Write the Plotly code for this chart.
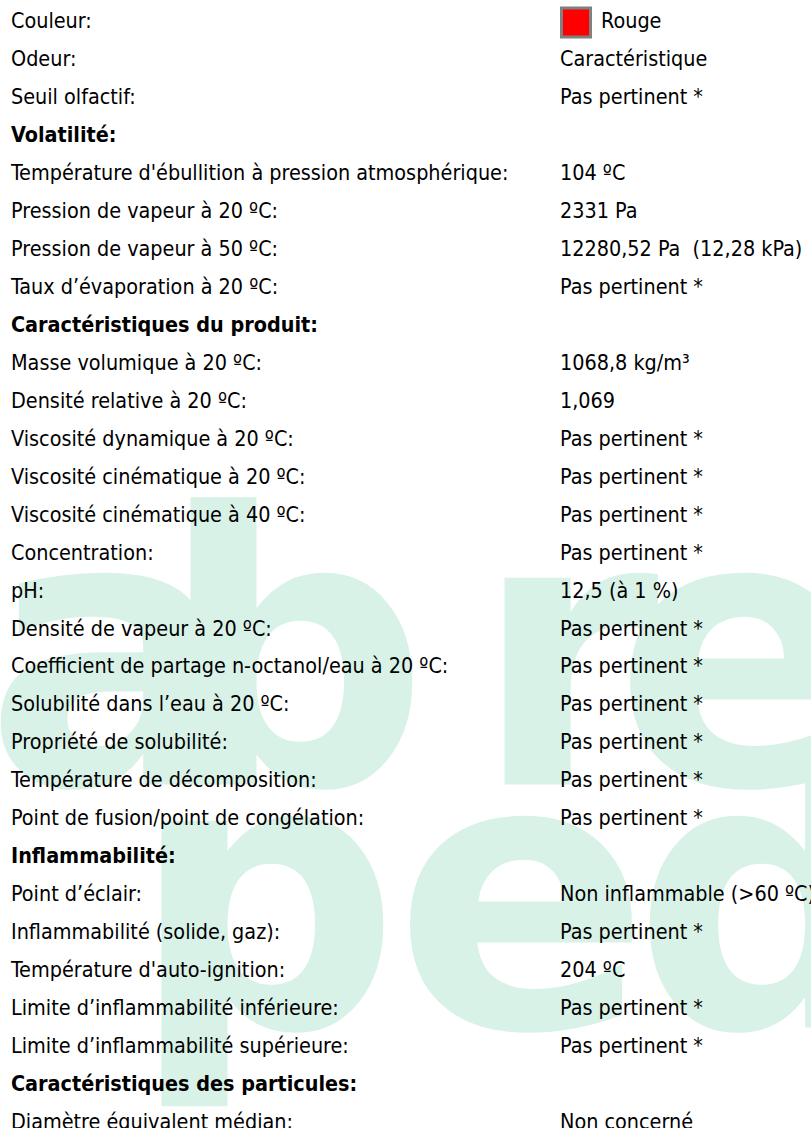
import plotly.graph_objects as go

# ---- data -------------------------------------------------------------
labels = [
    "Couleur:", "Odeur:", "Seuil olfactif:", "Volatilité:",
    "Température d'ébullition à pression atmosphérique:",
    "Pression de vapeur à 20 ºC:", "Pression de vapeur à 50 ºC:",
    "Taux d’évaporation à 20 ºC:", "Caractéristiques du produit:",
    "Masse volumique à 20 ºC:", "Densité relative à 20 ºC:",
    "Viscosité dynamique à 20 ºC:", "Viscosité cinématique à 20 ºC:",
    "Viscosité cinématique à 40 ºC:", "Concentration:", "pH:",
    "Densité de vapeur à 20 ºC:",
    "Coefficient de partage n-octanol/eau à 20 ºC:",
    "Solubilité dans l’eau à 20 ºC:", "Propriété de solubilité:",
    "Température de décomposition:",
    "Point de fusion/point de congélation:", "Inflammabilité:",
    "Point d’éclair:", "Inflammabilité (solide, gaz):",
    "Température d'auto-ignition:",
    "Limite d’inflammabilité inférieure:",
    "Limite d’inflammabilité supérieure:",
    "Caractéristiques des particules:", "Diamètre équivalent médian:",
]
values = [
    "Rouge", "Caractéristique", "Pas pertinent *", "",
    "104 ºC", "2331 Pa", "12280,52 Pa \u00a0(12,28 kPa)", "Pas pertinent *", "",
    "1068,8 kg/m³", "1,069", "Pas pertinent *", "Pas pertinent *",
    "Pas pertinent *", "Pas pertinent *", "12,5 (à 1 %)", "Pas pertinent *",
    "Pas pertinent *", "Pas pertinent *", "Pas pertinent *",
    "Pas pertinent *", "Pas pertinent *", "",
    "Non inflammable (>60 ºC)", "Pas pertinent *", "204 ºC",
    "Pas pertinent *", "Pas pertinent *", "", "Non concerné",
]
section_headers = ["Volatilité:", "Caractéristiques du produit:",
                   "Inflammabilité:", "Caractéristiques des particules:"]
colour_row = "Couleur:"
colour_value = "#ff0000"

watermark_rows = ["abre", "ped"]

# ---- layout constants -------------------------------------------------
W, H = 811, 1128
PITCH = 37.95
TOP = 23.0
LABEL_X = 11
VALUE_X = 560
FONT = "'DejaVu Sans Condensed', 'DejaVu Sans', sans-serif"
FSIZE = 21.4
MINT = "#d9f2e8"

rows = list(range(len(labels)))
label_text = [f"<b>{t}</b>" if t in section_headers else t for t in labels]

fig = go.Figure()

# watermark letters (decorative logo behind the text)
wm_x = [[112, 294, 566, 742], [265, 522, 768]]
wm_px = [690, 933]          # pixel rows of the two watermark lines
wm_y = [(p - TOP) / PITCH for p in wm_px]
for word, xs, yy in zip(watermark_rows, wm_x, wm_y):
    fig.add_trace(go.Scatter(
        x=xs, y=[yy] * len(xs), text=list(word), mode="text",
        textposition="middle center",
        textfont=dict(family="'DejaVu Sans', sans-serif",
                      size=378, color=MINT, weight="bold"),
        hoverinfo="skip", showlegend=False, cliponaxis=True))

fig.add_trace(go.Scatter(
    x=[LABEL_X] * len(rows), y=rows, text=label_text, mode="text",
    textposition="middle right",
    textfont=dict(family=FONT, size=FSIZE, color="#000000"),
    hoverinfo="skip", showlegend=False, cliponaxis=True))

ci = labels.index(colour_row)
val_x = [VALUE_X + (41 if i == ci else 0) for i in rows]
fig.add_trace(go.Scatter(
    x=val_x, y=rows, text=values, mode="text",
    textposition="middle right",
    textfont=dict(family=FONT, size=FSIZE, color="#000000"),
    hoverinfo="skip", showlegend=False, cliponaxis=True))

fig.add_trace(go.Scatter(
    x=[VALUE_X + 16], y=[ci - 0.01], mode="markers",
    marker=dict(symbol="square", size=29, color=colour_value,
                line=dict(color="#808080", width=3)),
    hoverinfo="skip", showlegend=False))

fig.update_layout(
    width=W, height=H, margin=dict(l=0, r=0, t=0, b=0),
    paper_bgcolor="white", plot_bgcolor="white",
    xaxis=dict(range=[0, W], visible=False, fixedrange=True),
    yaxis=dict(range=[(H - TOP) / PITCH, -TOP / PITCH], visible=False,
               fixedrange=True),
)
fig.write_html(
    "out.html",
    config={"displayModeBar": False, "staticPlot": True},
    post_script="document.body.style.margin='0';"
                "document.body.style.overflow='hidden';",
)
